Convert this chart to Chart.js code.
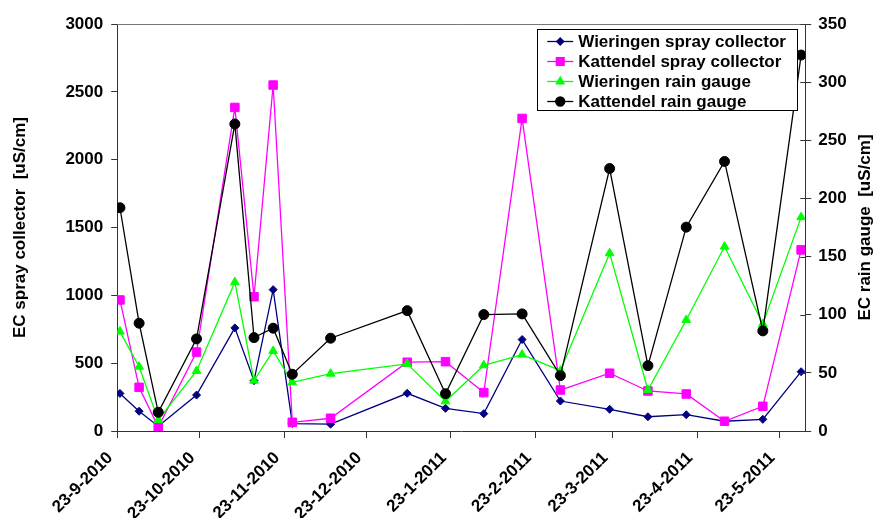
<!DOCTYPE html>
<html lang="en">
<head>
<meta charset="UTF-8">
<title>EC spray collector and rain gauge</title>
<script src="https://cdn.jsdelivr.net/npm/chart.js"></script>
<style>
  body { margin: 0; background: #fff; }
  #wrap { width: 875px; height: 518px; }
</style>
</head>
<body>
<div id="wrap"><canvas id="ecChart"></canvas></div>
<script>
  // sampling dates (d-m-yyyy) and EC values
  const sampleDates = ['24-9-2010', '1-10-2010', '8-10-2010', '22-10-2010', '5-11-2010', '12-11-2010',
    '19-11-2010', '26-11-2010', '10-12-2010', '7-1-2011', '21-1-2011', '4-2-2011', '18-2-2011',
    '4-3-2011', '22-3-2011', '5-4-2011', '19-4-2011', '3-5-2011', '17-5-2011', '31-5-2011'];
  const wieringenSpray = [277, 146, 35, 265, 760, 371, 1042, 55, 50, 278, 167, 128, 674, 221, 160, 105, 120, 72, 86, 437];
  const kattendelSpray = [966, 322, 30, 582, 2385, 990, 2550, 64, 94, 507, 511, 283, 2304, 302, 426, 295, 273, 72, 182, 1335];
  const wieringenRain = [85.5, 55.3, 9.5, 51.6, 128, 43.3, 68.8, 41.9, 49.3, 57.7, 25.5, 56.5, 65.7, 51.9, 152.9, 35.3, 95.5, 158.6, 92.1, 183.9];
  const kattendelRain = [192, 92.7, 16.1, 79.2, 264, 80.3, 88.4, 48.8, 79.8, 103.5, 32.1, 100.1, 100.7, 47.6, 225.7, 56.2, 175.3, 231.8, 86.1, 323.3];
  const tickDates = ['23-9-2010', '23-10-2010', '23-11-2010', '23-12-2010', '23-1-2011', '23-2-2011', '23-3-2011', '23-4-2011', '23-5-2011'];
  const endDate = '1-6-2011';

  // days since first tick date, so a linear axis can stand in for a time axis
  const dayOf = s => {
    const [d, m, y] = s.split('-').map(Number);
    return (Date.UTC(y, m - 1, d) - Date.UTC(2010, 8, 23)) / 864e5;
  };
  const days = sampleDates.map(dayOf);
  const tickDays = tickDates.map(dayOf);
  const pts = vals => vals.map((v, i) => ({ x: days[i], y: v }));

  const axisColor = '#333';
  const tickFont = { family: 'Arial', size: 17, weight: 'bold' };
  const rightTitle = 'EC rain gauge  [uS/cm]';

  // legend box inside plot, top right
  const legendBox = {
    id: 'legendBox',
    afterDraw(chart) {
      const { ctx, chartArea } = chart;
      const w = 260, h = 81;
      const x0 = chartArea.right - 8 - w, y0 = chartArea.top + 5;
      ctx.save();
      ctx.fillStyle = '#fff';
      ctx.fillRect(x0, y0, w, h);
      ctx.strokeStyle = '#000';
      ctx.lineWidth = 1;
      ctx.strokeRect(Math.round(x0) + 0.5, Math.round(y0) + 0.5, w, h);
      ctx.font = 'bold 17px Arial';
      ctx.textBaseline = 'middle';
      chart.data.datasets.forEach((ds, i) => {
        const y = y0 + 12.5 + i * 20;
        ctx.strokeStyle = ds.borderColor;
        ctx.lineWidth = 1.3;
        ctx.beginPath();
        ctx.moveTo(x0 + 10, y);
        ctx.lineTo(x0 + 36, y);
        ctx.stroke();
        ctx.fillStyle = ds.borderColor;
        Chart.helpers.drawPoint(ctx, { pointStyle: ds.pointStyle, radius: ds.pointRadius - 0.5, borderWidth: 1, rotation: 0 }, x0 + 23, y);
        ctx.fillStyle = '#000';
        ctx.fillText(ds.label, x0 + 41, y + 1);
      });
      ctx.restore();
    }
  };

  // top frame line, inner tick marks on right axis, right title reading upward
  const frame = {
    id: 'frame',
    afterDraw(chart) {
      const { ctx, chartArea } = chart;
      const yr = chart.scales.y1;
      ctx.save();
      ctx.strokeStyle = '#777';
      ctx.lineWidth = 1;
      ctx.beginPath();
      ctx.moveTo(chartArea.left, chartArea.top + 0.5);
      ctx.lineTo(chartArea.right, chartArea.top + 0.5);
      ctx.stroke();
      ctx.strokeStyle = axisColor;
      yr.ticks.forEach(t => {
        const py = Math.round(yr.getPixelForValue(t.value)) + 0.5;
        ctx.beginPath();
        ctx.moveTo(chartArea.right - 5, py);
        ctx.lineTo(chartArea.right, py);
        ctx.stroke();
      });
      ctx.translate(chart.width - 10, (chartArea.top + chartArea.bottom) / 2);
      ctx.rotate(-Math.PI / 2);
      ctx.font = 'bold 17px Arial';
      ctx.fillStyle = '#000';
      ctx.textAlign = 'center';
      ctx.textBaseline = 'middle';
      ctx.fillText(rightTitle, 0, 0);
      ctx.restore();
    }
  };

  new Chart(document.getElementById('ecChart'), {
    type: 'line',
    data: {
      datasets: [
        { label: 'Wieringen spray collector', data: pts(wieringenSpray), yAxisID: 'y', order: 4,
          borderColor: '#000080', backgroundColor: '#000080', pointStyle: 'rectRot', pointRadius: 4 },
        { label: 'Kattendel spray collector', data: pts(kattendelSpray), yAxisID: 'y', order: 3,
          borderColor: '#ff00ff', backgroundColor: '#ff00ff', pointStyle: 'rect', pointRadius: 6 },
        { label: 'Wieringen rain gauge', data: pts(wieringenRain), yAxisID: 'y1', order: 2,
          borderColor: '#00ff00', backgroundColor: '#00ff00', pointStyle: 'triangle', pointRadius: 5 },
        { label: 'Kattendel rain gauge', data: pts(kattendelRain), yAxisID: 'y1', order: 1,
          borderColor: '#000000', backgroundColor: '#000000', pointStyle: 'circle', pointRadius: 5 }
      ]
    },
    options: {
      responsive: true,
      maintainAspectRatio: false,
      animation: false,
      layout: { padding: { top: 24, right: 0, bottom: 0, left: 0 } },
      elements: {
        line: { borderWidth: 1.3, tension: 0 },
        point: { borderWidth: 1, hoverRadius: 5 }
      },
      plugins: { legend: { display: false }, tooltip: { enabled: false } },
      scales: {
        x: {
          type: 'linear',
          position: 'bottom',
          min: 0,
          max: dayOf(endDate) + 0.5,
          afterBuildTicks: axis => { axis.ticks = tickDays.map(v => ({ value: v })); },
          afterFit: axis => { axis.height = 87; },
          grid: { drawOnChartArea: false, tickLength: 7, color: axisColor },
          border: { color: axisColor },
          ticks: {
            autoSkip: false, minRotation: 45, maxRotation: 45, padding: 10, labelOffset: -7,
            color: '#000', font: tickFont,
            callback: (v, i) => tickDates[i]
          }
        },
        y: {
          position: 'left',
          min: 0, max: 3000,
          grid: { drawOnChartArea: false, tickLength: 6, color: axisColor },
          border: { color: axisColor },
          ticks: { stepSize: 500, padding: 8, color: '#000', font: tickFont, callback: v => String(v) },
          title: { display: true, text: 'EC spray collector  [uS/cm]', color: '#000', font: tickFont,
            padding: { top: 10, bottom: 27 } }
        },
        y1: {
          position: 'right',
          min: 0, max: 350,
          grid: { drawOnChartArea: false, tickLength: 6, color: axisColor },
          border: { color: axisColor },
          ticks: { stepSize: 50, padding: 7, color: '#000', font: tickFont, callback: v => String(v) },
          title: { display: true, text: rightTitle, color: 'rgba(0,0,0,0)', font: tickFont,
            padding: { top: 0, bottom: 1 } }
        }
      }
    },
    plugins: [legendBox, frame]
  });
</script>
</body>
</html>
